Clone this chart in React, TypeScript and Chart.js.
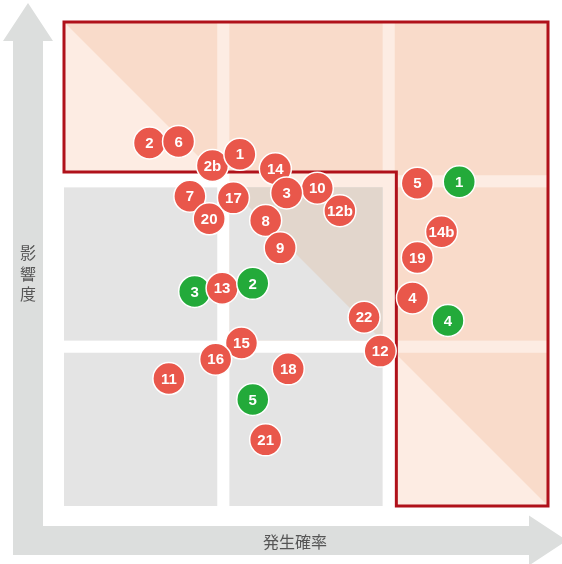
import React, { useEffect, useRef } from "react";
import { Chart, registerables } from "chart.js";

Chart.register(...registerables);

// Risk items, in drawing order (later items sit on top)
const riskLabels = ["2", "6", "2b", "1", "14", "10", "3", "12b", "5", "1", "7", "20", "17", "8", "9", "14b", "19", "3", "13", "2", "4", "4", "22", "12", "15", "16", "11", "18", "5", "21"];
// 発生確率 (probability), 0–3
const probability = [0.53, 0.71, 0.92, 1.09, 1.31, 1.57, 1.38, 1.71, 2.19, 2.45, 0.78, 0.9, 1.05, 1.25, 1.34, 2.34, 2.19, 0.81, 0.98, 1.17, 2.16, 2.38, 1.86, 1.96, 1.1, 0.94, 0.65, 1.39, 1.17, 1.25];
// 影響度 (impact), 0–3
const impact = [2.25, 2.26, 2.11, 2.18, 2.09, 1.97, 1.94, 1.83, 2.0, 2.01, 1.92, 1.78, 1.91, 1.77, 1.6, 1.7, 1.54, 1.33, 1.35, 1.38, 1.29, 1.15, 1.17, 0.96, 1.01, 0.91, 0.79, 0.85, 0.66, 0.41];
// r = red item, g = green item
const status = ["r", "r", "r", "r", "r", "r", "r", "r", "r", "g", "r", "r", "r", "r", "r", "r", "r", "g", "r", "g", "r", "g", "r", "r", "r", "r", "r", "r", "g", "r"];

const xTitle = "発生確率";
const yTitle = ["影", "響", "度"];

// grid bands (cells) in data units
const bands = [
  [0, 0.95],
  [1.025, 1.975],
  [2.05, 3],
];

const RED = "#e9574b";
const GREEN = "#23aa3a";
const PEACH = "#f9dbca";
const PEACH_LIGHT = "#fdece3";
const GRAY = "#e4e4e4";
const TINT = "#e2d6cc";
const BORDER = "#b0111a";
const ARROW = "#dcdedd";
const TEXT = "#555555";

const backgroundPlugin = {
  id: "riskBackground",
  beforeDatasetsDraw(chart: any) {
    const { ctx } = chart;
    const xs = chart.scales.x;
    const ys = chart.scales.y;
    const X = (v: number) => xs.getPixelForValue(v);
    const Y = (v: number) => ys.getPixelForValue(v);
    const area = chart.chartArea;

    ctx.save();
    // arrows
    ctx.fillStyle = ARROW;
    const cx = area.left - 36; // vertical arrow centre
    const cy = area.bottom + 34.5; // horizontal arrow centre
    ctx.beginPath();
    ctx.moveTo(cx, 3);
    ctx.lineTo(cx + 25, 41);
    ctx.lineTo(cx + 15, 41);
    ctx.lineTo(cx + 15, cy - 14.5);
    ctx.lineTo(area.right - 19, cy - 14.5);
    ctx.lineTo(area.right - 19, cy - 25);
    ctx.lineTo(area.right + 19, cy);
    ctx.lineTo(area.right - 19, cy + 25);
    ctx.lineTo(area.right - 19, cy + 14.5);
    ctx.lineTo(cx - 15, cy + 14.5);
    ctx.lineTo(cx - 15, 41);
    ctx.lineTo(cx - 25, 41);
    ctx.closePath();
    ctx.fill();

    // axis titles
    ctx.fillStyle = TEXT;
    ctx.font = '16px "Noto Sans CJK JP"';
    ctx.textAlign = "center";
    ctx.textBaseline = "middle";
    yTitle.forEach((ch, i) => ctx.fillText(ch, cx, 253 + i * 20.5));
    ctx.fillText(xTitle, (area.left + area.right) / 2 - 11, cy + 1);

    // L-shaped red region path
    const inX = 2.06;
    const inY = 2.07;
    const lPath = () => {
      ctx.beginPath();
      ctx.moveTo(X(0), Y(3));
      ctx.lineTo(X(3), Y(3));
      ctx.lineTo(X(3), Y(0));
      ctx.lineTo(X(inX), Y(0));
      ctx.lineTo(X(inX), Y(inY));
      ctx.lineTo(X(0), Y(inY));
      ctx.closePath();
    };

    // light pink surround of the middle cell
    ctx.fillStyle = PEACH_LIGHT;
    ctx.fillRect(X(1.025), Y(inY), X(inX) - X(1.025), Y(1.025) - Y(inY));

    lPath();
    ctx.fill();

    const cell = (i: number, j: number, dark: string, light: string, diag: boolean) => {
      const x0 = X(bands[i][0]);
      const x1 = X(bands[i][1]);
      const y0 = Y(bands[j][1]);
      const y1 = Y(bands[j][0]);
      if (!diag) {
        ctx.fillStyle = dark;
        ctx.fillRect(x0, y0, x1 - x0, y1 - y0);
        return;
      }
      ctx.fillStyle = light;
      ctx.fillRect(x0, y0, x1 - x0, y1 - y0);
      ctx.fillStyle = dark;
      ctx.beginPath();
      ctx.moveTo(x0, y0);
      ctx.lineTo(x1, y0);
      ctx.lineTo(x1, y1);
      ctx.closePath();
      ctx.fill();
    };

    // gray cells
    cell(0, 1, GRAY, GRAY, false);
    cell(0, 0, GRAY, GRAY, false);
    cell(1, 0, GRAY, GRAY, false);
    cell(1, 1, TINT, GRAY, true);

    // red region cells (clipped to L)
    ctx.save();
    lPath();
    ctx.clip();
    cell(0, 2, PEACH, PEACH_LIGHT, true);
    cell(1, 2, PEACH, PEACH, false);
    cell(2, 2, PEACH, PEACH, false);
    cell(2, 1, PEACH, PEACH, false);
    cell(2, 0, PEACH, PEACH_LIGHT, true);
    ctx.restore();

    lPath();
    ctx.strokeStyle = BORDER;
    ctx.lineWidth = 3;
    ctx.lineJoin = "miter";
    ctx.stroke();
    ctx.restore();
  },
  afterDatasetDraw(chart: any, args: any) {
    const el = args.meta.data[0];
    if (!el) return;
    const { ctx } = chart;
    ctx.save();
    ctx.fillStyle = "#ffffff";
    ctx.font = 'bold 15px "Liberation Sans", Arial, sans-serif';
    ctx.textAlign = "center";
    ctx.textBaseline = "middle";
    ctx.fillText(riskLabels[args.index], el.x, el.y + 1);
    ctx.restore();
  },
};

export default function App() {
  const ref = useRef<HTMLCanvasElement | null>(null);

  useEffect(() => {
    if (!ref.current) return;
    const n = riskLabels.length;
    const datasets = riskLabels.map((label, i) => ({
      label,
      data: [{ x: probability[i], y: impact[i] }],
      backgroundColor: status[i] === "g" ? GREEN : RED,
      borderColor: "#ffffff",
      borderWidth: 1.5,
      pointRadius: 16,
      pointHoverRadius: 16,
      order: n - i,
      clip: false as any,
    }));
    const chart = new Chart(ref.current, {
      type: "scatter",
      data: { datasets },
      options: {
        responsive: false,
        animation: false,
        events: [],
        layout: { autoPadding: false, padding: { left: 64, right: 14, top: 22, bottom: 58 } },
        scales: {
          x: { type: "linear", min: 0, max: 3, display: false },
          y: { type: "linear", min: 0, max: 3, display: false },
        },
        plugins: { legend: { display: false }, tooltip: { enabled: false } },
      },
      plugins: [backgroundPlugin],
    });
    return () => chart.destroy();
  }, []);

  return (
    <div style={{ position: "absolute", left: 0, top: 0, width: 562, height: 564 }}>
      <canvas ref={ref} width={562} height={564} style={{ display: "block" }} />
    </div>
  );
}
